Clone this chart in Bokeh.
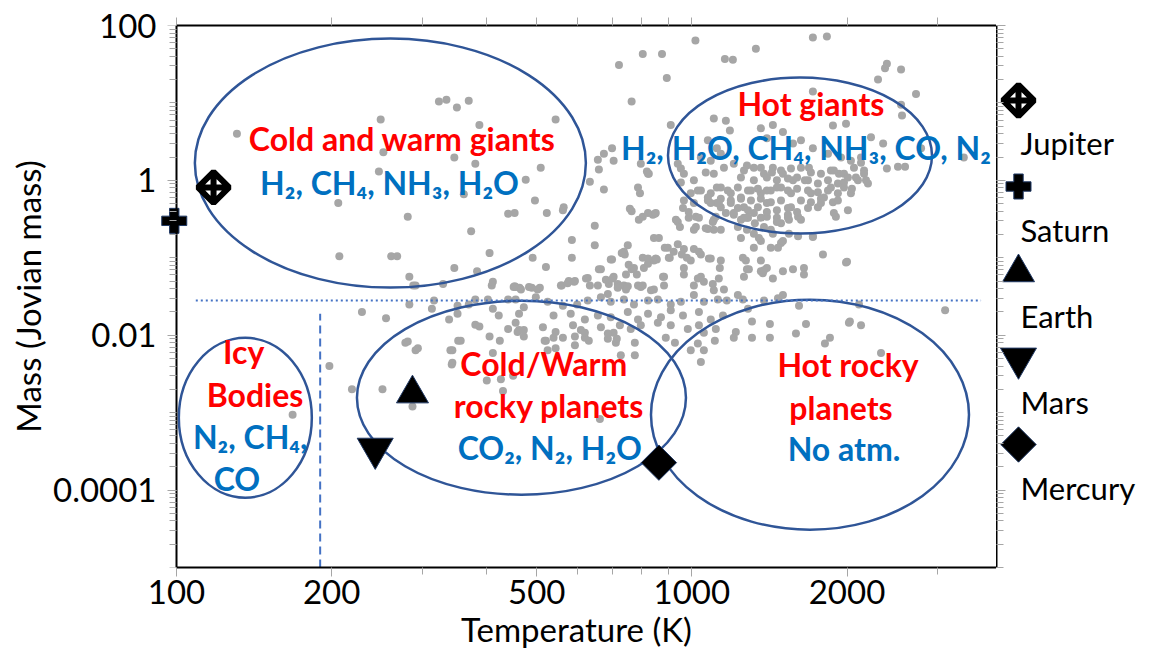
import numpy as np
from bokeh.plotting import figure
from bokeh.models import (Range1d, LogAxis, FixedTicker, CustomJSTickFormatter,
                          ColumnDataSource, LogScale)
from bokeh.layouts import row
from bokeh.embed import file_html
from bokeh.resources import INLINE
from bokeh.core.properties import value

# ---------------- data ----------------
exo_temp = [
 131,249,252,247,206,207,261,268,229,255,198,219,251,168,287,663,281,283,288,323,334,350,369,387,544,
 346,380,509,476,361,496,440,453,523,562,564,373,405,491,521,346,383,409,453,463,489,507,329,559,577,
 593,628,634,585,585,648,648,660,700,738,741,751,754,764,745,782,705,690,738,786,675,758,764,786,793,
 789,634,660,657,675,705,700,1016,1331,803,875,1159,1201,722,894,764,910,796,818,825,803,822,848,731,
 803,822,855,886,906,696,291,455,557,574,591,666,681,702,718,745,772,807,844,965,995,1041,1079,1138,
 1027,1055,1098,1128,1009,965,939,956,1009,1064,1103,939,986,1018,1113,1164,1206,1245,1279,1325,1256,
 1279,1361,1398,1436,1502,1571,1319,1361,1423,1489,1543,1607,1489,1543,
 1103,1164,1185,1361,1398,1436,1502,1571,1074,1118,1041,1088,1138,939,965,1009,1064,1103,1154,1206,
 1262,1319,1380,1436,1502,1571,1041,1088,1138,1190,1245,1302,1361,1423,1489,1557,965,1009,1074,1118,
 1190,1262,1343,1398,1489,1557,1138,1206,1319,1398,1462,1536,1607,1103,1138,1279,1380,1423,
 1279,1361,1430,1489,1557,1628,1702,1780,1861,1929,1245,1319,1398,1462,1536,1600,1680,1756,1837,1920,
 1118,1174,1228,1285,1343,1398,1462,1536,1600,1680,1756,1837,1920,1074,1138,1190,1245,1302,1361,1423,
 1628,1702,1780,1878,1228,1285,1398,1462,1536,1600,1680,1756,1285,1361,1462,1536,1628,1903,952,952,
 995,1027,1088,1128,822,840,851,961,931,948,986,1032,1018,1074,1098,1228,1262,1245,1349,1436,1502,
 1469,1319,1361,1650,1650,1796,1717,844,863,898,922,978,1032,1088,1133,1041,965,883,822,851,902,803,
 844,1009,
 1717,1828,2370,2546,2297,2722,2390,1717,2557,2546,1878,2226,2350,1991,1628,1717,1837,1947,2035,2129,
 2390,2511,2592,3370,2784,1687,1886,1973,2063,2158,1657,1861,1973,2100,2196,1702,1804,1920,2035,1780,
 1886,2008,2129,2158,2008,2081,2177,1973,2044,1717,2000,2110,2026,2129,3100,
 411,451,466,483,283,313,316,351,369,380,402,411,422,440,455,462,472,338,351,380,387,455,440,462,472,
 281,294,352,343,424,411,342,400,426,450,430,
 502,623,657,687,718,751,796,833,879,883,1103,1154,498,525,562,599,628,666,696,738,772,822,859,910,
 952,1009,1055,1123,1169,539,582,620,657,696,751,786,822,871,910,961,1032,1088,1149,514,544,588,609,
 620,666,705,725,761,796,859,910,982,1032,1055,1113,521,562,593,631,687,712,687,775,890,927,995,1027,
 1055,1041,1108,775,
 1273,1290,1262,1373,1380,1991,1228,1256,1285,1380,1469,1502,1614,1217,1308,1417,1308,1417,1592,1665,
 2017,1853,1812,2328,
 278,291,340,343,356,405,459,472,518,539,544,593,620,715,728,525,1206,
]
exo_mass = [
 4.0,6.1,2.3,1.30,0.51,0.105,0.105,0.105,0.020,0.0165,0.0040,0.0020,0.0020,0.00094,0.0012,0.00083,0.34,0.057,0.044,10.4,11,8.7,10.7,5.2,6.1,
 1.97,1.64,1.46,1.02,0.66,0.55,0.37,0.38,0.38,0.41,0.45,0.22,0.115,0.10,0.076,0.074,0.067,0.044,0.043,0.041,0.041,0.041,0.046,0.044,0.050,
 0.050,0.055,0.044,0.17,0.10,0.26,0.145,0.071,0.095,0.12,0.11,0.145,0.081,0.071,0.061,0.061,0.057,0.046,0.044,0.044,0.76,0.43,0.40,0.81,0.68,
 0.31,0.96,1.38,1.85,2.2,1.79,2.6,64,50,43,43,37,36,31,21,10.4,5.2,1.64,1.30,1.22,0.34,0.38,0.37,0.115,
 0.10,0.084,0.095,0.135,0.10,0.095,0.044,0.042,0.044,0.047,0.049,0.071,0.052,0.054,0.046,0.039,0.074,0.074,0.092,0.074,0.092,0.11,0.098,0.092,
 0.054,0.049,0.046,0.054,0.13,0.13,0.15,0.11,0.23,0.24,0.23,0.29,0.33,0.34,0.34,0.38,0.36,0.31,0.33,0.28,0.10,
 0.071,0.092,0.074,0.054,0.067,0.071,0.205,0.165,0.135,0.155,0.205,0.19,0.28,0.31,
 6.3,5.9,4.4,4.7,3.5,5.2,4.2,3.0,3.3,2.6,1.97,1.79,2.2,1.64,1.22,1.0,1.26,1.22,1.46,1.64,
 1.34,1.46,1.22,1.46,1.22,1.0,0.74,0.68,0.81,0.68,0.60,0.74,0.68,0.74,0.81,0.68,0.55,0.51,0.55,0.51,
 0.51,0.45,0.45,0.51,0.55,0.45,0.45,0.38,0.38,0.34,0.33,0.36,0.34,0.31,0.23,0.23,0.25,0.23,
 1.55,1.46,1.26,1.34,1.42,1.46,1.26,1.22,1.34,1.22,1.09,1.0,1.09,1.0,1.06,1.09,1.0,0.91,1.0,0.91,
 0.81,0.74,0.81,0.74,0.78,0.74,0.81,0.74,0.78,0.74,0.70,0.74,0.68,0.60,0.58,0.55,0.58,0.55,0.58,0.52,
 0.55,0.52,0.58,0.52,0.44,0.41,0.39,0.41,0.44,0.39,0.44,0.45,0.33,0.33,0.29,0.33,0.31,0.34,1.42,0.94,
 0.68,0.74,0.51,0.51,1.22,0.36,0.38,0.44,0.31,0.25,0.39,0.33,0.25,0.235,0.29,0.25,0.33,0.18,0.18,0.205,0.165,
 0.135,0.135,0.067,0.074,0.061,0.11,0.19,0.18,0.18,0.135,0.12,0.10,0.12,0.098,0.074,0.057,0.061,0.057,0.098,0.098,0.10,0.044,
 0.039,0.044,
 70,72,28,27,20,13,32,14,6.9,9.5,5.1,3.6,3.0,5.4,3.3,2.6,2.2,1.97,1.79,1.97,
 1.42,1.50,1.50,1.97,2.6,1.46,1.34,1.22,1.46,1.34,1.0,0.81,0.94,1.0,0.91,0.68,0.60,0.55,0.68,0.51,
 0.38,0.41,1.69,1.22,1.09,1.09,1.0,0.81,0.78,0.185,0.089,0.025,0.015,0.0134,0.021,
 0.049,0.042,0.039,0.042,0.025,0.022,0.028,0.024,0.025,0.029,0.029,0.022,0.018,0.029,0.029,0.019,0.023,0.016,0.019,0.0137,0.013,0.0145,0.012,0.0117,0.0117,
 0.0083,0.0068,0.0085,0.0064,0.0085,0.0059,0.0042,0.0026,0.0027,0.0030,0.0019,
 0.039,0.054,0.044,0.034,0.041,0.043,0.042,0.038,0.057,0.044,0.038,0.039,0.031,0.027,0.024,0.025,0.028,0.031,0.027,0.029,0.025,0.028,0.029,0.025,
 0.027,0.033,0.027,0.029,0.028,0.018,0.019,0.016,0.018,0.017,0.020,0.016,0.019,0.017,0.021,0.018,0.020,0.016,0.018,0.0127,0.011,0.0134,0.0117,
 0.0093,0.0127,0.0108,0.0134,0.012,0.0134,0.0145,0.0134,0.012,0.0134,0.0108,0.012,0.0085,0.0093,0.0074,0.0085,0.0090,0.0080,0.0105,0.0080,0.0093,0.0080,0.0064,0.0078,
 0.0064,0.0045,0.0085,0.0055,
 0.092,0.071,0.057,0.063,0.069,0.087,0.033,0.029,0.022,0.028,0.030,0.033,0.024,0.011,0.015,0.014,0.0093,0.0093,0.0105,0.014,
 0.0145,0.0093,0.0078,0.0059,
 0.0080,0.0064,0.0064,0.0044,0.0085,0.0096,0.011,0.0096,0.0085,0.0093,0.0068,0.0096,0.0108,0.0090,0.0055,0.0064,0.0093,
]

planet_names = ["Jupiter", "Saturn", "Earth", "Mars", "Mercury"]
planet_temp = [118, 99, 287, 243, 863]
planet_mass = [0.81, 0.30, 0.00176, 0.000343, 0.000226]

# regions (ellipse centres, K and Jovian mass)
region_temp = [260, 1621, 136, 467, 1695]
region_mass = [1.67, 2.09, 0.00086, 0.00156, 0.000942]

label_text = ["Cold and warm giants", "H\u2082, CH\u2084, NH\u2083, H\u2082O",
              "Hot giants", "H\u2082, H\u2082O, CH\u2084, NH\u2083, CO, N\u2082",
              "Icy", "Bodies", "N\u2082, CH\u2084,", "CO",
              "Cold/Warm", "rocky planets", "CO\u2082, N\u2082, H\u2082O",
              "Hot rocky", "planets", "No atm."]
label_temp = [274, 259, 1702, 1665, 135, 142, 139, 131, 516, 528, 530, 2009, 1947, 1973]
label_mass = [3.47, 0.94, 9.8, 2.65, 0.00614, 0.00171, 0.00049, 0.00014,
              0.0043, 0.00123, 0.000353, 0.00417, 0.00116, 0.000343]
label_kind = ["name", "gas", "name", "gas", "name", "name", "gas", "gas",
              "name", "name", "gas", "name", "name", "gas"]

mass_limit = 0.028          # dotted horizontal line
mass_limit_span = [109, 3640]
temp_limit = 190            # dashed vertical line
temp_limit_span = [1e-5, 0.019]

t_axis = [100, 3900]        # temperature axis extent (K)
m_axis = [1e-5, 100]        # mass axis extent (Jovian mass)
x_ticks = [100, 200, 500, 1000, 2000]
x_minor = [300, 400, 600, 700, 800, 900, 3000]
y_ticks = [1e-4, 1e-2, 1, 100]

# ---------------- styles ----------------
FONT = "Lato"
GREY_TICK = "#A6A6A6"
ELL = "#2F5597"
region_w = [391, 264, 133, 329, 318]
region_h = [249, 156, 160, 194, 230]
kind_color = {"name": "#FF0000", "gas": "#0070C0"}
planet_style = dict(
    marker=["square_x", "plus", "triangle", "inverted_triangle", "square"],
    size=[22, 25, 32, 36, 25],
    angle=[45, 0, 0, 0, 45],
    fill=["white", "black", "black", "black", "black"],
    line=["black", "#1F3864", "#1F3864", "#1F3864", "#1F3864"],
    lw=[6, 1, 1, 1, 1],
)

y_minor = [k * 10.0 ** e for e in range(-5, 2) for k in range(1, 10)]

# the plotting frame reaches a few px left of the 100 K axis so that Saturn's
# marker (just below 100 K) is not clipped; the y axis line is pinned at 100 K.
PX_PER_DECADE = 515.37
left_pad_px = 20
x_start = t_axis[0] / 10 ** (left_pad_px / PX_PER_DECADE)

p = figure(width=996, height=661, x_axis_type="log", y_axis_type="log",
           x_range=Range1d(x_start, t_axis[1]), y_range=Range1d(*m_axis),
           output_backend="svg", toolbar_location=None,
           min_border_left=176 - left_pad_px, min_border_right=0,
           min_border_top=25, min_border_bottom=94,
           outline_line_color=None,
           background_fill_color="white", border_fill_color="white")
p.grid.visible = False

def style_axis(ax, label_size="33px"):
    ax.axis_line_color = "black"
    ax.axis_line_width = 2
    ax.major_tick_line_color = GREY_TICK
    ax.minor_tick_line_color = GREY_TICK
    ax.major_tick_in = 0
    ax.minor_tick_in = 0
    ax.major_tick_out = 9
    ax.minor_tick_out = 7
    ax.major_label_text_font = FONT
    ax.major_label_text_font_size = label_size
    ax.major_label_text_color = "black"
    ax.axis_label_text_font = FONT
    ax.axis_label_text_font_size = "33px"
    ax.axis_label_text_font_style = "normal"
    ax.axis_label_text_color = "black"

blank = CustomJSTickFormatter(code="return '';")
plain = CustomJSTickFormatter(code="return tick.toString();")

xa = p.xaxis[0]
style_axis(xa)
xa.ticker = FixedTicker(ticks=x_ticks, minor_ticks=x_minor)
xa.formatter = plain
xa.bounds = tuple(t_axis)
xa.axis_label = "Temperature (K)"
xa.major_label_standoff = 3
xa.axis_label_standoff = 2

# y axis line + ticks, pinned at 100 K
ya = p.yaxis[0]
style_axis(ya, "0px")
ya.ticker = FixedTicker(ticks=y_ticks, minor_ticks=y_minor)
ya.formatter = blank
ya.fixed_location = t_axis[0]
ya.major_label_standoff = 0

# y tick labels + axis title (in the left panel)
yl = LogAxis(ticker=FixedTicker(ticks=y_ticks), formatter=plain)
style_axis(yl)
yl.axis_line_color = None
yl.major_tick_out = 0
yl.minor_tick_out = 0
yl.major_label_standoff = 0
yl.axis_label = "Mass (Jovian mass)"
yl.axis_label_standoff = 2
p.add_layout(yl, "left")

top = LogAxis(ticker=FixedTicker(ticks=[100, 200, 300, 400, 500, 600, 700, 800, 900, 1000, 2000, 3000]),
              formatter=blank)
style_axis(top, "0px")
top.major_tick_out = 8
top.major_label_standoff = 0
top.bounds = tuple(t_axis)
p.add_layout(top, "above")

# exoplanets
p.scatter(exo_temp, exo_mass, size=8, fill_color="#A6A6A6", line_color=None)

# regions
p.ellipse(x=region_temp, y=region_mass, width=region_w, height=region_h,
          width_units="screen", height_units="screen",
          fill_color=None, line_color=ELL, line_width=2.5)

# limits
p.segment(x0=[mass_limit_span[0]], x1=[mass_limit_span[1]], y0=[mass_limit], y1=[mass_limit],
          line_color="#4472C4", line_width=2, line_dash="2 3")
p.segment(x0=[temp_limit], x1=[temp_limit], y0=[temp_limit_span[0]], y1=[temp_limit_span[1]],
          line_color="#4472C4", line_width=2, line_dash="8 5")

lab_src = ColumnDataSource(dict(x=label_temp, y=label_mass, text=label_text,
                                color=[kind_color[k] for k in label_kind]))
p.text(x="x", y="y", text="text", text_color="color", source=lab_src,
       text_font=value(FONT), text_font_style="bold", text_font_size="32px",
       text_align="center", text_baseline="middle")

pl_src = ColumnDataSource(dict(x=planet_temp, y=planet_mass, name=planet_names,
                               slot=list(range(len(planet_names))),
                               lx=[22] * len(planet_names),
                               tx=[24] * len(planet_names),
                               ty=[i + 0.5 for i in range(len(planet_names))],
                               **planet_style))
p.scatter(x="x", y="y", marker="marker", size="size", angle="angle", angle_units="deg",
          fill_color="fill", line_color="line", line_width="lw", source=pl_src)

# ---------------- legend panel (right) ----------------
lg = figure(width=153, height=661, x_range=Range1d(0, 153), y_range=Range1d(5.430, -0.872),
            output_backend="svg", toolbar_location=None,
            x_axis_type=None, y_axis_type=None,
            min_border_left=0, min_border_right=0, min_border_top=25, min_border_bottom=94,
            outline_line_color=None, background_fill_color="white", border_fill_color="white")
lg.grid.visible = False
lg.extra_y_ranges = {"mass": Range1d(*m_axis)}
lg.extra_y_scales = {"mass": LogScale()}
rax = LogAxis(y_range_name="mass", ticker=FixedTicker(ticks=y_ticks, minor_ticks=y_minor),
              formatter=blank)
style_axis(rax, "0px")
rax.major_tick_out = 0
rax.minor_tick_out = 0
rax.major_tick_in = 9
rax.minor_tick_in = 7
rax.major_label_standoff = 0
lg.add_layout(rax, "left")

lg.scatter(x="lx", y="slot", marker="marker", size="size", angle="angle", angle_units="deg",
           fill_color="fill", line_color="line", line_width="lw", source=pl_src)
lg.text(x="tx", y="ty", text="name", source=pl_src, text_font=value(FONT),
        text_font_size="31px", text_color="black", text_align="left", text_baseline="middle")

layout = row(p, lg)
open("out.html", "w").write(file_html(layout, INLINE))
